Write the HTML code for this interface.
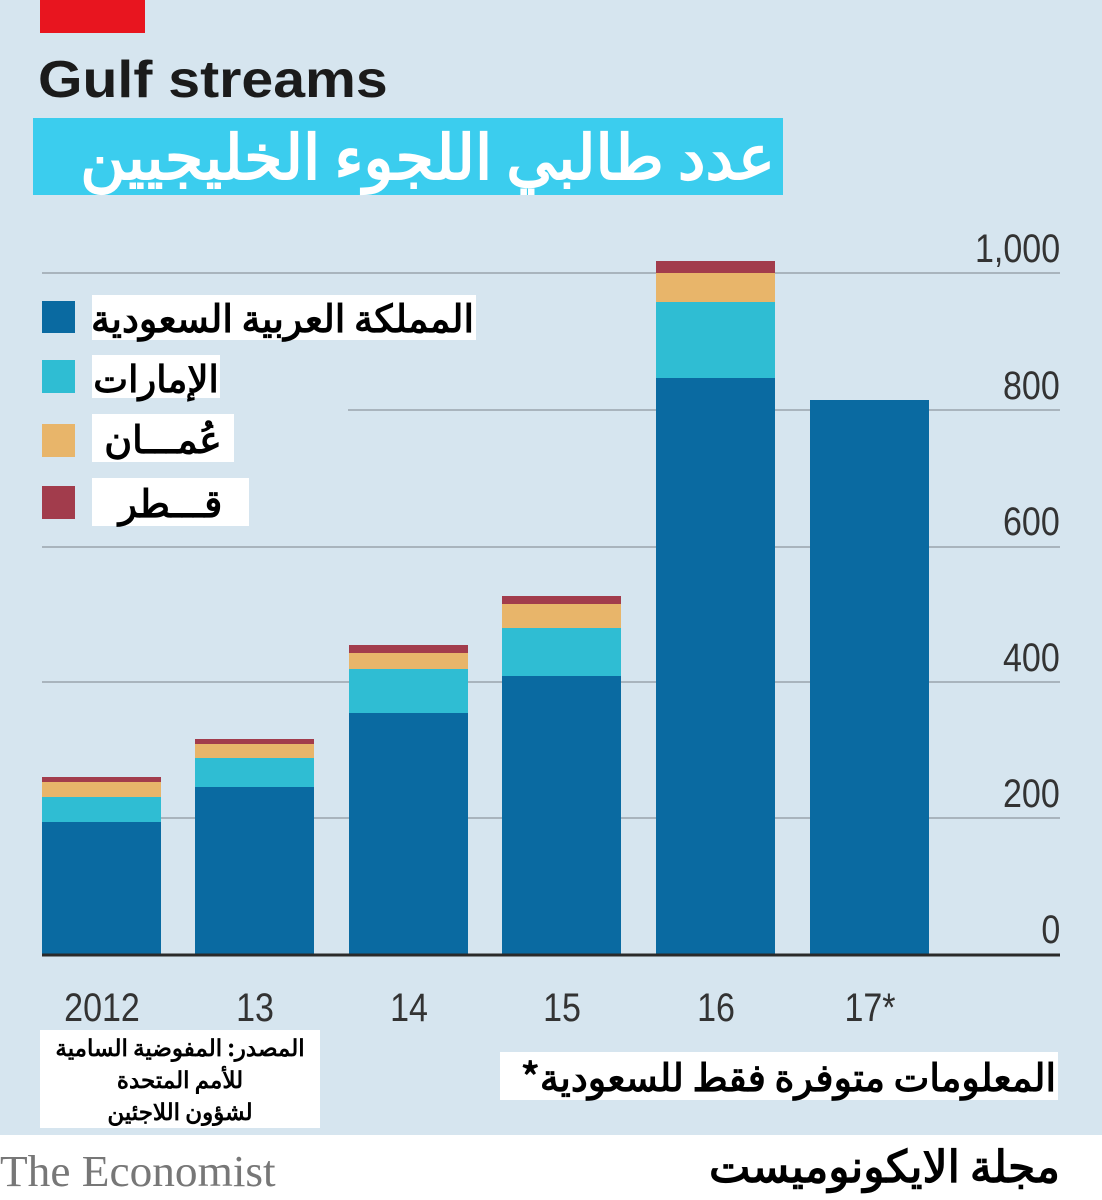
<!DOCTYPE html><html><head><meta charset="utf-8"><style>
body{margin:0}
#c{position:relative;width:1102px;height:1200px;background:#fff;overflow:hidden;font-family:"Liberation Sans","Noto Sans CJK SC",sans-serif}
.a{position:absolute}
.ar{font-family:"Noto Sans CJK SC","WenQuanYi Zen Hei",sans-serif;font-weight:bold;direction:rtl;white-space:nowrap}
.yl{position:absolute;right:42px;font-size:40px;color:#333;transform:scaleX(.85);transform-origin:right;line-height:1}
.xl{position:absolute;font-size:40px;color:#333;transform:scaleX(.85);line-height:1;width:160px;text-align:center}
</style></head><body><div id="c">
<div class="a" style="left:0;top:0;width:1102px;height:1135px;background:#d6e5ef"></div>
<div class="a" style="left:40px;top:0;width:105px;height:33px;background:#e8151f"></div>
<div class="a" style="left:38px;top:50px;font-size:52px;font-weight:bold;color:#1b1b1b;transform:scaleX(1.1);transform-origin:left">Gulf streams</div>
<div class="a" style="left:33px;top:118px;width:750px;height:77px;background:#3bcdee"></div>
<div class="a ar" style="left:33px;top:116px;width:742px;height:77px;font-size:62px;color:#fff;line-height:72px;text-align:right">عدد طالبي اللجوء الخليجيين</div>
<svg class="a" style="left:0;top:0" width="1102" height="1135">
<g stroke="#a9b4bd" stroke-width="2">
<line x1="42" y1="273" x2="1060" y2="273"/><line x1="348" y1="410" x2="1060" y2="410"/>
<line x1="42" y1="547" x2="1060" y2="547"/><line x1="42" y1="682" x2="1060" y2="682"/>
<line x1="42" y1="818" x2="1060" y2="818"/></g>
<g>
<rect x="42" y="777" width="119" height="6" fill="#a23c4c"/><rect x="42" y="782" width="119" height="16" fill="#e8b56a"/><rect x="42" y="797" width="119" height="26" fill="#2fbdd3"/><rect x="42" y="822" width="119" height="133" fill="#0a6aa1"/>
<rect x="195" y="739" width="119" height="6" fill="#a23c4c"/><rect x="195" y="744" width="119" height="15" fill="#e8b56a"/><rect x="195" y="758" width="119" height="30" fill="#2fbdd3"/><rect x="195" y="787" width="119" height="168" fill="#0a6aa1"/>
<rect x="349" y="645" width="119" height="9" fill="#a23c4c"/><rect x="349" y="653" width="119" height="17" fill="#e8b56a"/><rect x="349" y="669" width="119" height="45" fill="#2fbdd3"/><rect x="349" y="713" width="119" height="242" fill="#0a6aa1"/>
<rect x="502" y="596" width="119" height="9" fill="#a23c4c"/><rect x="502" y="604" width="119" height="25" fill="#e8b56a"/><rect x="502" y="628" width="119" height="49" fill="#2fbdd3"/><rect x="502" y="676" width="119" height="279" fill="#0a6aa1"/>
<rect x="656" y="261" width="119" height="13" fill="#a23c4c"/><rect x="656" y="273" width="119" height="30" fill="#e8b56a"/><rect x="656" y="302" width="119" height="77" fill="#2fbdd3"/><rect x="656" y="378" width="119" height="577" fill="#0a6aa1"/>
<rect x="810" y="400" width="119" height="555" fill="#0a6aa1"/>
</g>
<line x1="42" y1="955" x2="1060" y2="955" stroke="#2a2a2a" stroke-width="3"/>
<rect x="42" y="301" width="33" height="32" fill="#0a6aa1"/><rect x="42" y="360" width="33" height="33" fill="#2fbdd3"/>
<rect x="42" y="424" width="33" height="33" fill="#e8b56a"/><rect x="42" y="486" width="33" height="33" fill="#a23c4c"/>
</svg>
<div class="yl" style="top:229px">1,000</div><div class="yl" style="top:366px">800</div><div class="yl" style="top:502px">600</div>
<div class="yl" style="top:638px">400</div><div class="yl" style="top:774px">200</div><div class="yl" style="top:910px">0</div>
<div class="xl" style="left:22px;top:988px">2012</div><div class="xl" style="left:175px;top:988px">13</div>
<div class="xl" style="left:329px;top:988px">14</div><div class="xl" style="left:482px;top:988px">15</div>
<div class="xl" style="left:636px;top:988px">16</div><div class="xl" style="left:790px;top:988px">17*</div>
<div class="a ar" style="left:92px;top:295px;width:382px;height:45px;background:#fff;font-size:38px;line-height:42px;text-align:right;color:#000;padding-right:2px">المملكة العربية السعودية</div>
<div class="a ar" style="left:92px;top:355px;width:128px;height:43px;background:#fff;font-size:37px;line-height:42px;text-align:center;color:#000">الإمارات</div>
<div class="a ar" style="left:92px;top:414px;width:142px;height:48px;background:#fff;font-size:38px;line-height:46px;text-align:center;color:#000">عُمـــان</div>
<div class="a ar" style="left:92px;top:478px;width:157px;height:48px;background:#fff;font-size:38px;line-height:46px;text-align:center;color:#000">قـــطر</div>
<div class="a ar" style="left:40px;top:1030px;width:280px;height:98px;background:#fff;font-size:23px;line-height:32px;text-align:center;color:#000">المصدر: المفوضية السامية<br>للأمم المتحدة<br>لشؤون اللاجئين</div>
<div class="a ar" style="left:500px;top:1052px;width:556px;height:48px;background:#fff;font-size:38px;line-height:46px;text-align:right;color:#000;padding-right:2px">المعلومات متوفرة فقط للسعودية*</div>
<div class="a" style="left:0;top:1146px;font-family:'Liberation Serif',serif;font-size:44px;color:#777;transform:scaleX(1.03);transform-origin:left">The Economist</div>
<div class="a ar" style="right:42px;top:1136px;font-size:44px;color:#000;line-height:54px">مجلة الايكونوميست</div>
</div></body></html>
